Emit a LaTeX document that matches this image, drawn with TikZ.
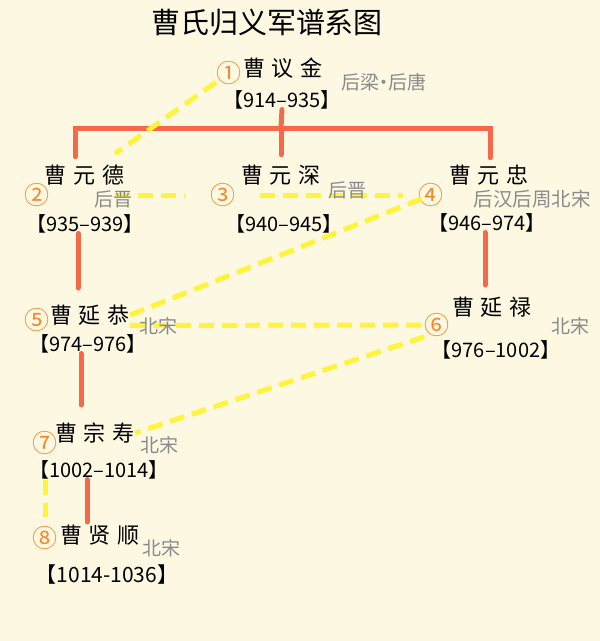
\documentclass[tikz,border=0pt]{standalone}
\usepackage{fontspec}
\setmainfont{Noto Sans CJK SC}
\usetikzlibrary{positioning}
\definecolor{paper}{HTML}{FDF8E2}
\definecolor{lineRed}{HTML}{F4694A}
\definecolor{tieYellow}{HTML}{FFF33B}
\definecolor{numOrange}{HTML}{F7862A}
\definecolor{eraGray}{HTML}{8A8A8A}
\newcommand\nm[3]{#1\kern7pt#2\kern7pt#3}
\tikzset{
  person/.style={inner sep=0pt, font=\fontsize{22}{22}\selectfont},
  years/.style={inner sep=0pt, font=\fontsize{20}{20}\selectfont},
  era/.style={inner sep=0pt, text=eraGray, font=\fontsize{19}{19}\selectfont},
  num/.style={inner sep=0pt, text=numOrange, font=\fontsize{25}{25}\selectfont},
  famline/.style={draw=lineRed, line width=5pt, line cap=round},
  tie/.style={draw=tieYellow, line width=5pt, dash pattern=on 15pt off 8pt}
}
\begin{document}
\begin{tikzpicture}[x=1pt, y=-1pt]
  \fill[paper] (0,0) rectangle (600,641);
  \useasboundingbox (0,0) rectangle (600,641);
  \node [inner sep=0pt, font=\fontsize{29}{29}\selectfont] (title) at (267,22) {曹氏归义军谱系图};
  % generation 1
  \node [num] (c1) at (229,73) {①};
  \node [person] (n1) at (283,68) {\nm{曹}{议}{金}};
  \node [years] (y1) at (282,100) {【914–935】};
  % generation 2
  \node [num] (c2) at (37,195) {②};
  \node [person] (n2) at (85,175) {\nm{曹}{元}{德}};
  \node [years] (y2) at (85,224) {【935–939】};
  \node [num] (c3) at (223,195) {③};
  \node [person] (n3) at (281,175) {\nm{曹}{元}{深}};
  \node [years] (y3) at (284,224) {【940–945】};
  \node [num] (c4) at (431,195) {④};
  \node [person] (n4) at (489,175) {\nm{曹}{元}{忠}};
  \node [years] (y4) at (487,223) {【946–974】};
  % generation 3
  \node [num] (c5) at (37,320) {⑤};
  \node [person] (n5) at (90,315) {\nm{曹}{延}{恭}};
  \node [years] (y5) at (88,344) {【974–976】};
  \node [num] (c6) at (437,325) {⑥};
  \node [person] (n6) at (492,307) {\nm{曹}{延}{禄}};
  \node [years] (y6) at (496,350) {【976–1002】};
  % generation 4 and 5
  \node [num] (c7) at (45,443) {⑦};
  \node [person] (n7) at (95,433) {\nm{曹}{宗}{寿}};
  \node [years] (y7) at (99,470) {【1002–1014】};
  \node [num] (c8) at (45,538) {⑧};
  \node [person] (n8) at (100,535) {\nm{曹}{贤}{顺}};
  \node [years, font=\fontsize{21}{21}\selectfont] (y8) at (107,575) {【1014-1036】};

  % descent lines
  \coordinate (bar) at (281,128);
  \coordinate (b2) at (75,128);
  \coordinate (b4) at (490,128);
  \coordinate (k2) at (78,288);
  \coordinate (k4) at (485,285);
  \coordinate (k5) at (81,405);
  \coordinate (k7) at (87,522);
  \draw[famline] (y1.south) -- (bar);
  \draw[famline, shorten <=8pt, shorten >=7pt] (b2 |- n2.north) |- (b4) -- (b4 |- n4.north);
  \draw[famline, shorten >=10pt] (bar) -- (bar |- n3.north);
  \draw[famline] (y2.south -| k2) -- (k2);
  \draw[famline] (y4.south -| k4) -- (k4);
  \draw[famline] (y5.south -| k5) -- (k5);
  \draw[famline] (y7.south -| k7) -- (k7);

  % ties
  \draw[tie, shorten <=16pt, shorten >=37pt] (c1.center) -- (n2.center);
  \draw[tie, shorten <=78pt, shorten >=38pt] (c2.center) -- (c3.center);
  \draw[tie, shorten <=37pt, shorten >=28pt] (c3.center) -- (c4.center);
  \draw[tie, shorten <=10pt] (c4.center) -- (n5.east);
  \draw[tie] (n5.south east) -- (c6.west);
  \draw[tie] (c6.south west) -- (n7.east);
  \draw[tie, shorten <=37pt, shorten >=21pt] (c7.center) -- (c8.center);

  % dynasties
  \node [era] (d1) at (384,82) {后梁\kern-5pt·\kern-5pt后唐};
  \node [era] (d2) at (113,199) {后晋};
  \node [era] (d3) at (347,190) {后晋};
  \node [era, font=\fontsize{19.5}{19.5}\selectfont] (d4) at (532,199) {后汉后周北宋};
  \node [era] (d5) at (158,326) {北宋};
  \node [era] (d6) at (570,326) {北宋};
  \node [era] (d7) at (159,445) {北宋};
  \node [era] (d8) at (161,548) {北宋};
\end{tikzpicture}
\end{document}
